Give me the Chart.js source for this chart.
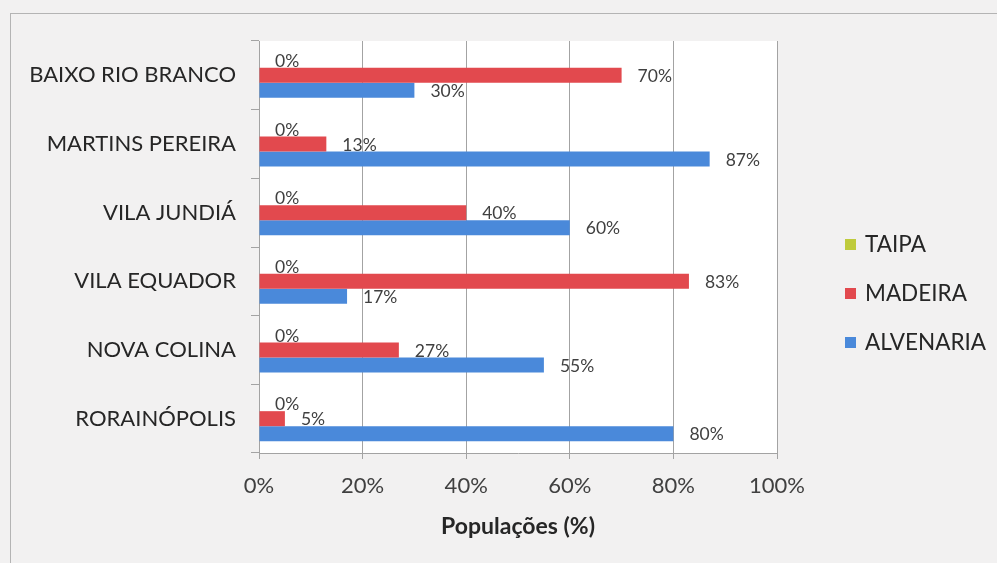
<!DOCTYPE html>
<html lang="pt">
<head>
<meta charset="utf-8">
<title>Tipo de construção por população</title>
<script src="https://cdn.jsdelivr.net/npm/chart.js@4.4.1/dist/chart.umd.min.js"></script>
<style>
    html, body { margin: 0; padding: 0; background: #f2f1f1; }
    .frame {
        position: absolute; left: 10px; top: 13px; width: 1000px; height: 600px;
        border: 1px solid #b4b4b4; box-sizing: border-box;
    }
    .wrap { position: absolute; left: 0; top: 0; width: 997px; height: 563px; }
</style>
</head>
<body>
<div class="frame"></div>
<div class="wrap"><canvas id="chart"></canvas></div>
<script>
// ---- Data ----
const categories = ['BAIXO RIO BRANCO', 'MARTINS PEREIRA', 'VILA JUNDIÁ', 'VILA EQUADOR', 'NOVA COLINA', 'RORAINÓPOLIS'];
const seriesNames = ['TAIPA', 'MADEIRA', 'ALVENARIA'];
const taipa     = [0, 0, 0, 0, 0, 0];
const madeira   = [70, 13, 40, 83, 27, 5];
const alvenaria = [30, 87, 60, 17, 55, 80];
const xTicks    = [0, 20, 40, 60, 80, 100];

const COLORS = ['#bfcb3c', '#e2494e', '#4a89da'];
const GRID = '#a3a3a3';
const FONT = "Lato, 'Open Sans', sans-serif";

// white plot area behind the bars
const plotBg = {
    id: 'plotBg',
    beforeDraw(chart) {
        const { ctx, chartArea: a } = chart;
        ctx.save();
        ctx.fillStyle = '#ffffff';
        ctx.fillRect(a.left, a.top, a.right - a.left, a.bottom - a.top);
        ctx.restore();
    }
};

// value labels just past the end of each bar
const valueLabels = {
    id: 'valueLabels',
    afterDatasetsDraw(chart) {
        const { ctx } = chart;
        ctx.save();
        ctx.font = '17.5px ' + FONT;
        ctx.fillStyle = '#404040';
        ctx.textAlign = 'left';
        ctx.textBaseline = 'middle';
        chart.data.datasets.forEach((ds, i) => {
            chart.getDatasetMeta(i).data.forEach((bar, j) => {
                ctx.fillText(ds.data[j] + '%', bar.x + 16, bar.y + 1);
            });
        });
        ctx.restore();
    }
};

// legend on the right, one entry per series
const sideLegend = {
    id: 'sideLegend',
    afterDraw(chart) {
        const { ctx, chartArea: a } = chart;
        const x = a.right + 68;
        ctx.save();
        ctx.font = '22.5px ' + FONT;
        ctx.textAlign = 'left';
        ctx.textBaseline = 'middle';
        chart.data.datasets.forEach((ds, i) => {
            const y = a.top + 203 + i * 49;
            ctx.fillStyle = ds.backgroundColor;
            ctx.fillRect(x, y - 5, 11, 11);
            ctx.fillStyle = '#262626';
            ctx.fillText(ds.label, x + 20, y + 1);
        });
        ctx.restore();
    }
};

const seriesData = [taipa, madeira, alvenaria];

new Chart(document.getElementById('chart'), {
    type: 'bar',
    data: {
        labels: categories,
        datasets: seriesNames.map((name, i) => ({
            label: name,
            data: seriesData[i],
            backgroundColor: COLORS[i],
            borderWidth: 0,
            categoryPercentage: 0.655,
            barPercentage: 1,
        })),
    },
    options: {
        indexAxis: 'y',
        responsive: true,
        maintainAspectRatio: false,
        animation: false,
        layout: { padding: { top: 41, right: 220, bottom: 0, left: 0 } },
        plugins: {
            legend: { display: false },
            tooltip: { enabled: false },
        },
        scales: {
            x: {
                min: 0,
                max: 100,
                afterBuildTicks: (scale) => { scale.ticks = xTicks.map(v => ({ value: v })); },
                afterFit: (scale) => { scale.height = 110; },
                grid: { color: GRID, tickLength: 6, tickColor: GRID },
                border: { color: GRID },
                ticks: {
                    color: '#404040',
                    font: { family: FONT, size: 22 },
                    padding: 14,
                    callback: (v) => v + '%',
                },
                title: {
                    display: true,
                    text: 'Populações (%)',
                    color: '#262626',
                    font: { family: FONT, size: 23, weight: 'bold' },
                    padding: { top: 4, bottom: 23 },
                },
            },
            y: {
                afterFit: (scale) => { scale.width = 259; },
                grid: { display: true, drawOnChartArea: false, offset: true, tickLength: 8, tickColor: GRID },
                border: { color: GRID },
                ticks: {
                    color: '#262626',
                    font: { family: FONT, size: 22 },
                    padding: 15,
                },
            },
        },
    },
    plugins: [plotBg, valueLabels, sideLegend],
});
</script>
</body>
</html>
